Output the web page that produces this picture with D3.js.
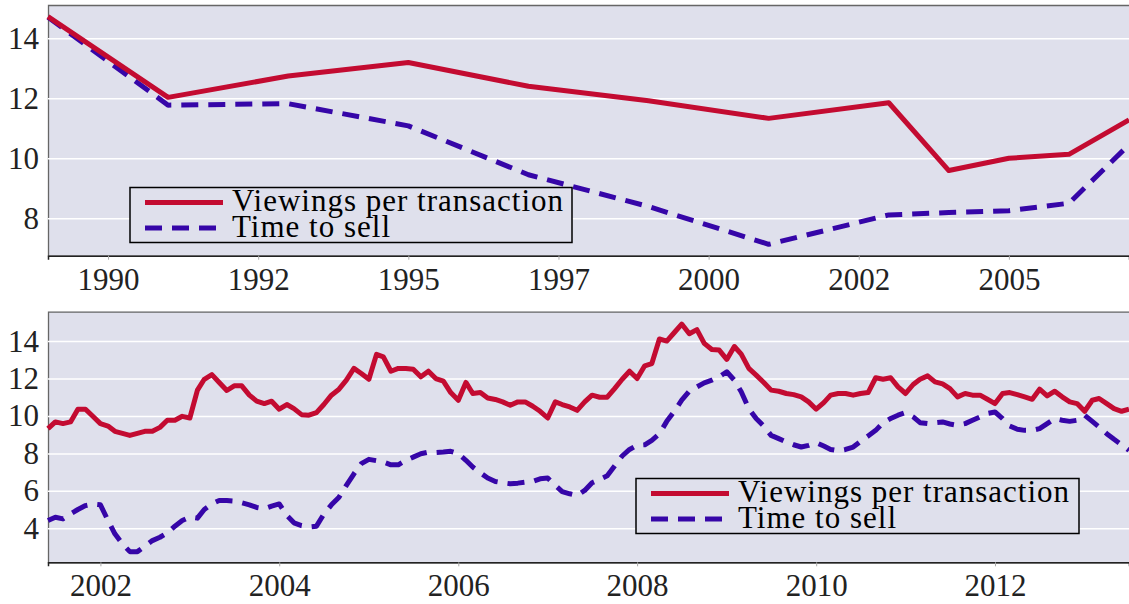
<!DOCTYPE html>
<html>
<head>
<meta charset="utf-8">
<script src="https://cdn.jsdelivr.net/npm/d3@7"></script>
<style>
  html, body { margin: 0; padding: 0; background: #fff; }
  svg { display: block; }
  svg text { font-family: "Liberation Serif", "DejaVu Serif", serif; }
</style>
</head>
<body>
<svg id="chart" width="1129" height="604"></svg>
<script>
// ---- data: annual survey (top panel)
var annualYears = [1989, 1991, 1993, 1995, 1997, 1999, 2001, 2003, 2004, 2005, 2006, 2007];
var annualViewings = [14.72, 12.03, 12.74, 13.19, 12.4, 11.92, 11.33, 11.85, 9.59, 10.0, 10.13, 11.28];
var annualTimeToSell = [14.7, 11.77, 11.82, 11.08, 9.45, 8.39, 7.13, 8.11, 8.19, 8.25, 8.5, 10.45];
var annualTicks = [1990, 1992.5, 1995, 1997.5, 2000, 2002.5, 2005];
var annualTickLabels = ['1990', '1992', '1995', '1997', '2000', '2002', '2005'];
var annualYTicks = [8, 10, 12, 14];

// ---- data: monthly survey (bottom panel), first month 2001-06
var monthlyStart = '2001-06-01';
var monthlyViewings = [
  9.32, 9.68, 9.59, 9.68, 10.36, 10.36, 9.98, 9.59, 9.46, 9.18, 9.07, 8.96,
  9.07, 9.18, 9.18, 9.39, 9.77, 9.77, 9.98, 9.89, 11.38, 11.96, 12.21, 11.79,
  11.36, 11.61, 11.61, 11.11, 10.79, 10.66, 10.79, 10.36, 10.61, 10.39, 10.07, 10.04,
  10.18, 10.61, 11.11, 11.43, 11.91, 12.54, 12.27, 11.96, 13.29, 13.16, 12.39, 12.54,
  12.54, 12.5, 12.09, 12.39, 12.0, 11.86, 11.25, 10.84, 11.79, 11.2, 11.25, 10.96,
  10.88, 10.75, 10.57, 10.75, 10.75, 10.52, 10.25, 9.89, 10.75, 10.61, 10.48, 10.3,
  10.75, 11.11, 11.0, 11.0, 11.46, 11.96, 12.39, 12.0, 12.68, 12.8, 14.11, 14.0,
  14.46, 14.91, 14.39, 14.61, 13.88, 13.55, 13.52, 13.02, 13.71, 13.3, 12.54, 12.18,
  11.79, 11.38, 11.32, 11.2, 11.14, 11.02, 10.75, 10.36, 10.71, 11.11, 11.2, 11.2,
  11.11, 11.2, 11.25, 12.04, 11.96, 12.04, 11.55, 11.2, 11.68, 11.96, 12.14, 11.82,
  11.71, 11.46, 11.02, 11.2, 11.11, 11.11, 10.89, 10.66, 11.2, 11.25, 11.14, 11.02,
  10.89, 11.43, 11.07, 11.32, 11.02, 10.75, 10.66, 10.25, 10.84, 10.93, 10.66, 10.39,
  10.25, 10.36
];
var monthlyTimeToSell = [
  4.41, 4.59, 4.5, 4.77, 5.0, 5.21, 5.29, 5.25, 4.41, 3.7, 3.16, 2.75,
  2.75, 3.04, 3.34, 3.52, 3.75, 4.11, 4.41, 4.59, 4.54, 5.0, 5.3, 5.48,
  5.48, 5.45, 5.36, 5.25, 5.11, 5.04, 5.18, 5.3, 4.68, 4.29, 4.14, 4.07,
  4.11, 4.75, 5.25, 5.66, 6.29, 6.91, 7.45, 7.68, 7.61, 7.54, 7.39, 7.39,
  7.63, 7.8, 7.98, 8.07, 8.04, 8.07, 8.11, 7.98, 7.63, 7.27, 6.96, 6.68,
  6.5, 6.43, 6.38, 6.41, 6.46, 6.5, 6.64, 6.68, 6.29, 5.96, 5.84, 5.75,
  6.02, 6.43, 6.61, 6.8, 7.32, 7.86, 8.21, 8.43, 8.46, 8.7, 9.05, 9.71,
  10.25, 10.84, 11.32, 11.55, 11.77, 11.91, 12.09, 12.36, 11.91, 11.29, 10.39, 9.86,
  9.46, 8.96, 8.79, 8.61, 8.46, 8.34, 8.43, 8.57, 8.39, 8.21, 8.14, 8.21,
  8.34, 8.64, 8.93, 9.23, 9.64, 9.86, 10.04, 10.18, 9.95, 9.64, 9.59, 9.64,
  9.68, 9.57, 9.5, 9.59, 9.77, 9.95, 10.13, 10.21, 9.86, 9.46, 9.29, 9.23,
  9.23, 9.32, 9.59, 9.86, 9.77, 9.71, 9.77, 10.04, 9.71, 9.41, 9.05, 8.75,
  8.46, 8.16
];
var monthlyYTicks = [4, 6, 8, 10, 12, 14];

var seriesNames = ['Viewings per transaction', 'Time to sell'];

// ---- styles
var bg = '#dfe0ec';
var redColor = '#c30b31';
var blueColor = '#3606a8';
var lineW = 5;
var dash = '17,10';
var fontFamily = '"Liberation Serif", "DejaVu Serif", serif';

var svg = d3.select('#chart');

function drawPanel(opts) {
  var g = svg.append('g');

  // plot background
  g.append('rect')
    .attr('x', opts.x.range()[0])
    .attr('y', opts.y.range()[1])
    .attr('width', opts.x.range()[1] - opts.x.range()[0])
    .attr('height', opts.y.range()[0] - opts.y.range()[1])
    .attr('fill', bg);

  // y gridlines + labels
  var yAxis = g.append('g')
    .attr('transform', 'translate(' + opts.x.range()[0] + ',0)')
    .call(d3.axisLeft(opts.y)
      .tickValues(opts.yTicks)
      .tickSize(-(opts.x.range()[1] - opts.x.range()[0]))
      .tickPadding(9)
      .tickFormat(d3.format('d')));
  yAxis.attr('font-family', fontFamily).attr('font-size', 31);
  yAxis.select('.domain').attr('stroke', '#666').attr('stroke-width', 1.3);
  yAxis.selectAll('.tick line').attr('stroke', '#fff').attr('stroke-width', 1.5);
  yAxis.selectAll('.tick text').attr('fill', '#222');

  // x axis
  var xAxis = g.append('g')
    .attr('transform', 'translate(0,' + opts.y.range()[0] + ')')
    .call(opts.xAxis);
  xAxis.attr('font-family', fontFamily).attr('font-size', 31);
  xAxis.select('.domain').attr('stroke', '#222').attr('stroke-width', 1.5);
  xAxis.selectAll('.tick line').attr('stroke', '#aaa').attr('stroke-width', 1);
  xAxis.selectAll('.tick text')
    .attr('y', 34)
    .attr('dy', null)
    .attr('fill', '#222');

  // lines
  var line = d3.line()
    .x(function (d) { return opts.x(d.x); })
    .y(function (d) { return opts.y(d.y); });

  g.append('path')
    .datum(opts.xs.map(function (x, i) { return { x: x, y: opts.timeToSell[i] }; }))
    .attr('d', line)
    .attr('fill', 'none')
    .attr('stroke', blueColor)
    .attr('stroke-width', lineW)
    .attr('stroke-dasharray', dash)
    .attr('stroke-linejoin', 'round');

  g.append('path')
    .datum(opts.xs.map(function (x, i) { return { x: x, y: opts.viewings[i] }; }))
    .attr('d', line)
    .attr('fill', 'none')
    .attr('stroke', redColor)
    .attr('stroke-width', lineW)
    .attr('stroke-linejoin', 'round');

  // legend
  var lg = g.append('g').attr('transform', 'translate(' + opts.legend[0] + ',' + opts.legend[1] + ')');
  lg.append('rect')
    .attr('width', opts.legend[2])
    .attr('height', 55)
    .attr('fill', bg)
    .attr('stroke', '#000')
    .attr('stroke-width', 1.5);
  var items = [
    { name: seriesNames[0], color: redColor, dash: null },
    { name: seriesNames[1], color: blueColor, dash: dash }
  ];
  items.forEach(function (it, i) {
    var cy = 15 + i * 25.5;
    lg.append('line')
      .attr('x1', 15).attr('x2', 93)
      .attr('y1', cy).attr('y2', cy)
      .attr('stroke', it.color)
      .attr('stroke-width', lineW)
      .attr('stroke-dasharray', it.dash);
    lg.append('text')
      .attr('x', 102)
      .attr('y', cy + 8.5)
      .attr('fill', '#000')
      .style('font-size', '31px')
      .style('letter-spacing', '1px')
      .text(it.name);
  });
}

// ---- top panel: annual
var xTop = d3.scaleLinear().domain([1989, 2007]).range([48, 1129]);
var yTop = d3.scaleLinear().domain([6.75, 15.11]).range([255.7, 5]);

drawPanel({
  x: xTop,
  y: yTop,
  yTicks: annualYTicks,
  xAxis: d3.axisBottom(xTop)
    .tickValues(annualTicks)
    .tickSize(4)
    .tickFormat(function (d, i) { return annualTickLabels[i]; }),
  xs: annualYears,
  viewings: annualViewings,
  timeToSell: annualTimeToSell,
  legend: [130, 187.5, 442]
});

// ---- bottom panel: monthly
var parseDate = d3.timeParse('%Y-%m-%d');
var monthlyDates = monthlyViewings.map(function (v, i) {
  return d3.timeMonth.offset(parseDate(monthlyStart), i);
});

var xBot = d3.scaleTime()
  .domain(d3.extent(monthlyDates))
  .range([48, 1129]);
var yBot = d3.scaleLinear().domain([2.18, 15.57]).range([562.3, 311.7]);

drawPanel({
  x: xBot,
  y: yBot,
  yTicks: monthlyYTicks,
  xAxis: d3.axisBottom(xBot)
    .ticks(d3.timeYear.every(2))
    .tickSize(4)
    .tickFormat(d3.timeFormat('%Y')),
  xs: monthlyDates,
  viewings: monthlyViewings,
  timeToSell: monthlyTimeToSell,
  legend: [636, 478.5, 443]
});
</script>
</body>
</html>
